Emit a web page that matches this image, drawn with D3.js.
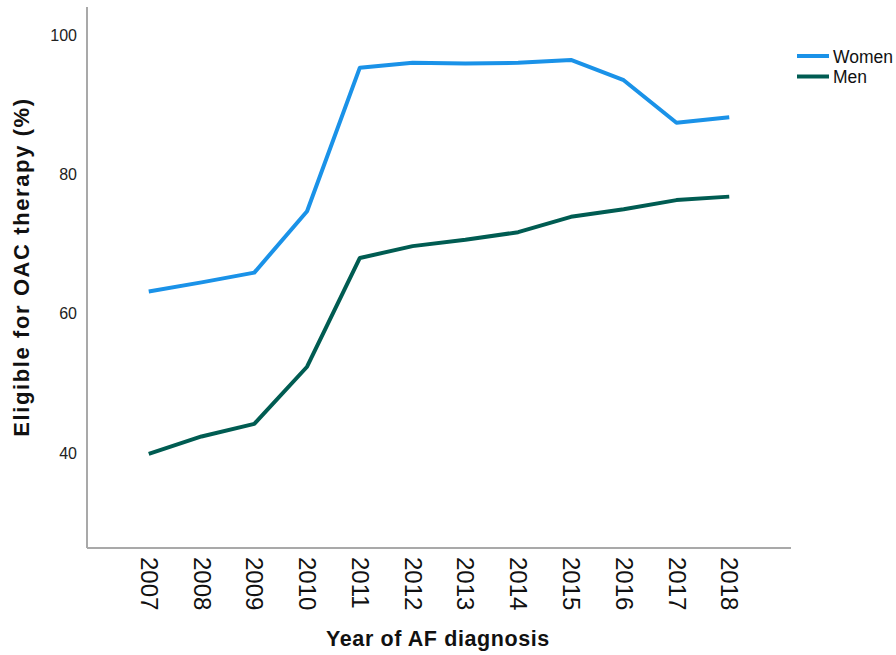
<!DOCTYPE html>
<html>
<head>
<meta charset="utf-8">
<script src="https://d3js.org/d3.v7.min.js"></script>
<style>
  body { margin: 0; background: #fff; }
  .axis path, .axis line { stroke: #a9a9a9; stroke-width: 2; }
  .ytick text { font-family: "Liberation Sans", Arial, sans-serif; font-size: 16px; fill: #222; }
  .xtick text { font-family: "Liberation Sans", Arial, sans-serif; font-size: 24px; fill: #111; }
  .title { font-family: "Liberation Sans", Arial, sans-serif; font-weight: bold; fill: #111; }
  .legend text { font-family: "Liberation Sans", Arial, sans-serif; font-size: 17.5px; fill: #111; }
</style>
</head>
<body>
<svg class="chart"></svg>
<script>
// data
var years = [2007, 2008, 2009, 2010, 2011, 2012, 2013, 2014, 2015, 2016, 2017, 2018];
var women = [63.2, 64.5, 65.9, 74.7, 95.3, 96.0, 95.9, 96.0, 96.4, 93.5, 87.4, 88.2];
var men   = [39.9, 42.4, 44.2, 52.4, 68.0, 69.7, 70.6, 71.7, 73.9, 75.0, 76.3, 76.8];
var yTicks = [40, 60, 80, 100];
var seriesNames = ['Women', 'Men'];
var colors = ['#1a92e8', '#005c52'];

var W = 896, H = 655;
var margin = {top: 7, right: 105, bottom: 107, left: 87},
	width = W - margin.left - margin.right,
	height = H - margin.top - margin.bottom;

var chart = d3.select('.chart')
	.attr('width', W)
	.attr('height', H);

var g = chart.append('g')
	.attr('transform', 'translate(' + margin.left + ',' + margin.top + ')');

var x = d3.scalePoint().domain(years).range([0, width]).padding(1.17),
	y = d3.scaleLinear().domain([26.4, 104]).range([height, 0]);

// y axis, no tick marks
var yAxis = g.append('g')
	.attr('class', 'axis ytick')
	.call(d3.axisLeft(y).tickValues(yTicks).tickSize(0).tickPadding(10).tickSizeOuter(0));
yAxis.select('.domain').attr('d', 'M0,0V' + height);

// x axis with rotated year labels
var xAxis = g.append('g')
	.attr('class', 'axis xtick')
	.attr('transform', 'translate(0,' + height + ')')
	.call(d3.axisBottom(x).tickSize(0).tickSizeOuter(0));
xAxis.select('.domain').attr('d', 'M0,0H' + width);
xAxis.selectAll('text')
	.attr('transform', 'rotate(90)')
	.attr('x', 9)
	.attr('y', 0)
	.attr('dy', '0.35em')
	.style('text-anchor', 'start');

// lines
var line = d3.line()
	.x(function(d, i) { return x(years[i]); })
	.y(function(d) { return y(d); });

[women, men].forEach(function(s, i) {
	g.append('path')
		.datum(s)
		.attr('fill', 'none')
		.attr('stroke', colors[i])
		.attr('stroke-width', 4)
		.attr('stroke-linejoin', 'round')
		.attr('d', line);
});

// axis titles
chart.append('text')
	.attr('class', 'title')
	.attr('x', 438)
	.attr('y', 646)
	.attr('text-anchor', 'middle')
	.style('font-size', '21.5px')
	.style('letter-spacing', '0.6px')
	.text('Year of AF diagnosis');

chart.append('text')
	.attr('class', 'title')
	.attr('transform', 'translate(29,267) rotate(-90)')
	.attr('text-anchor', 'middle')
	.style('font-size', '22px')
	.style('letter-spacing', '1.6px')
	.text('Eligible for OAC therapy (%)');

// legend
var legend = chart.append('g')
	.attr('class', 'legend')
	.attr('transform', 'translate(797,56)');

var item = legend.selectAll('g')
	.data(seriesNames)
  .enter().append('g')
	.attr('transform', function(d, i) { return 'translate(0,' + (i * 20.5) + ')'; });

item.append('line')
	.attr('x1', 0).attr('x2', 32)
	.attr('stroke', function(d, i) { return colors[i]; })
	.attr('stroke-width', 4);

item.append('text')
	.attr('x', 36)
	.attr('y', 6.5)
	.text(function(d) { return d; });
</script>
</body>
</html>
